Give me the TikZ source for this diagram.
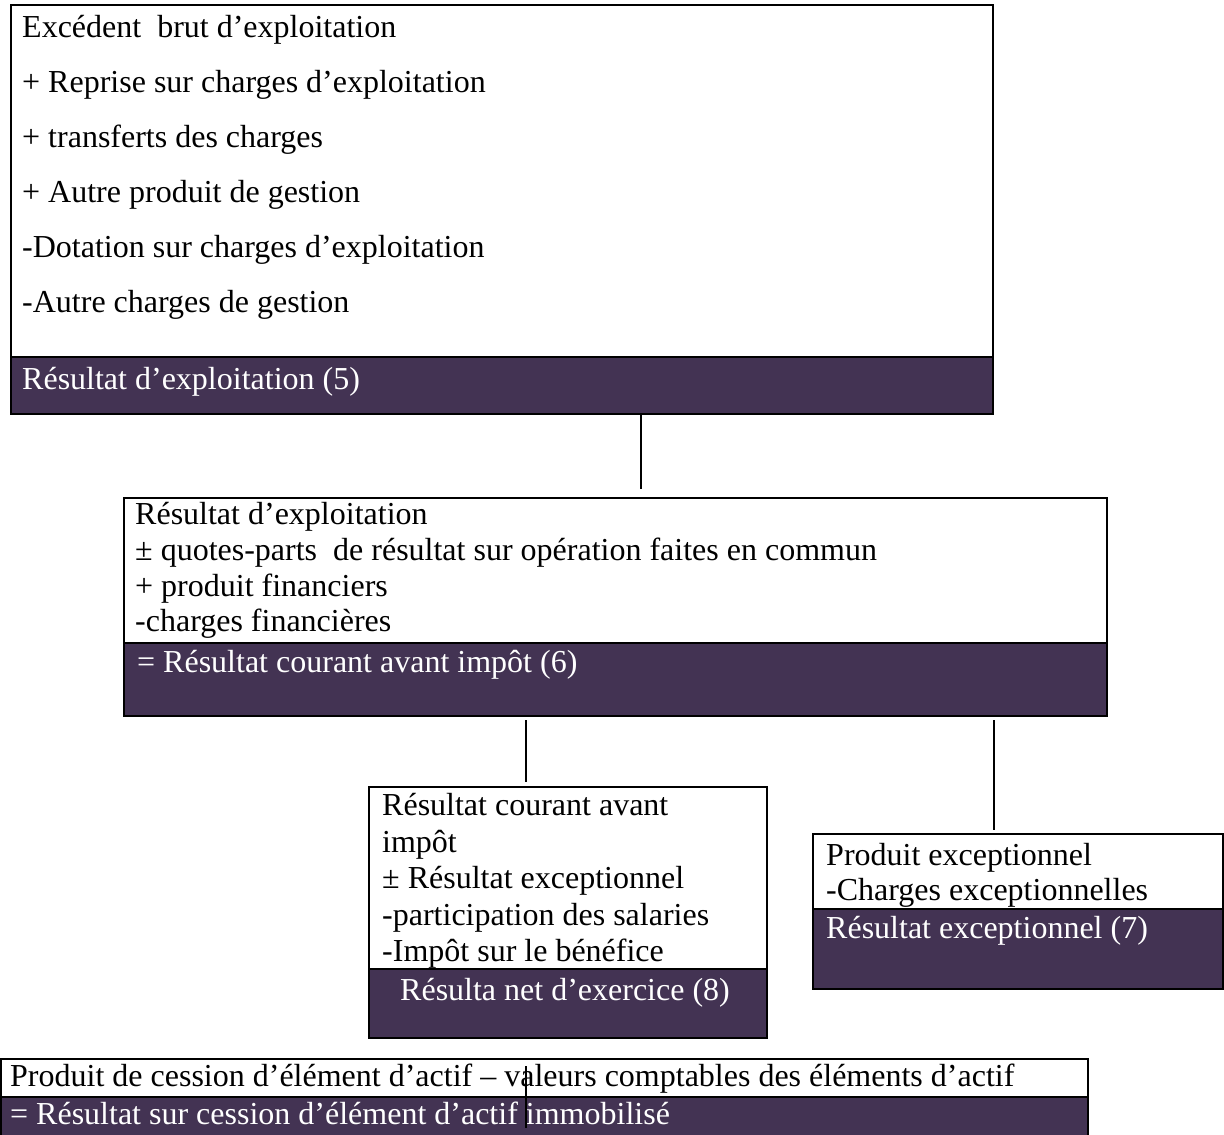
\documentclass[tikz,border=0pt]{standalone}
\usepackage{fontspec}
\setmainfont{Liberation Serif}
\definecolor{bandc}{HTML}{433353}
\tikzset{
  frame/.style={rectangle, draw, line width=2pt, fill=white, inner sep=0pt, anchor=north west},
  bandbox/.style={rectangle, draw, line width=2pt, fill=bandc, inner sep=0pt, anchor=north west},
  txt/.style={anchor=base west, inner sep=0pt, font=\fontsize{32}{36}\selectfont},
  wtxt/.style={txt, text=white},
  link/.style={line width=1.3pt}
}
\begin{document}
\begin{tikzpicture}[x=1pt,y=-1pt]
\useasboundingbox (0,0) rectangle (1224,1135);
\clip (0,0) rectangle (1224,1135);
% box 1
\node[frame, minimum width=982pt, minimum height=409pt] (b1) at (10,4) {};
\node[bandbox, minimum width=982pt, minimum height=57pt] (b1band) at (10,356) {};
\node[txt] (t11) at (22,37) {Excédent\ \ brut d’exploitation};
\node[txt] (t12) at (22,92) {+ Reprise sur charges d’exploitation};
\node[txt] (t13) at (22,147) {+ transferts des charges};
\node[txt] (t14) at (22,202) {+ Autre produit de gestion};
\node[txt] (t15) at (22,257) {-Dotation sur charges d’exploitation};
\node[txt] (t16) at (22,312) {-Autre charges de gestion};
\node[wtxt] (t17) at (22,389) {Résultat d’exploitation (5)};
% box 2
\node[frame, minimum width=983pt, minimum height=218pt] (b2) at (123,497) {};
\node[bandbox, minimum width=983pt, minimum height=73pt] (b2band) at (123,642) {};
\node[txt] (t21) at (135,524) {Résultat d’exploitation};
\node[txt] (t22) at (135,560) {± quotes-parts\ \ de résultat sur opération faites en commun};
\node[txt] (t23) at (135,596) {+ produit financiers};
\node[txt] (t24) at (135,631) {-charges financières};
\node[wtxt] (t25) at (137,672) {= Résultat courant avant impôt (6)};
% box 3
\node[frame, minimum width=398pt, minimum height=251pt] (b3) at (368,786) {};
\node[bandbox, minimum width=398pt, minimum height=69pt] (b3band) at (368,968) {};
\node[txt] (t31) at (382,815) {Résultat courant avant};
\node[txt] (t32) at (382,852) {impôt};
\node[txt] (t33) at (382,888) {± Résultat exceptionnel};
\node[txt] (t34) at (382,925) {-participation des salaries};
\node[txt] (t35) at (382,961) {-Impôt sur le bénéfice};
\node[wtxt] (t36) at (400,1000) {Résulta net d’exercice (8)};
% box 4
\node[frame, minimum width=410pt, minimum height=155pt] (b4) at (812,833) {};
\node[bandbox, minimum width=410pt, minimum height=80pt] (b4band) at (812,908) {};
\node[txt] (t41) at (826,865) {Produit exceptionnel};
\node[txt] (t42) at (826,900) {-Charges exceptionnelles};
\node[wtxt] (t43) at (826,938) {Résultat exceptionnel (7)};
% box 5
\node[frame, minimum width=1087pt, minimum height=82pt] (b5) at (0,1058) {};
\node[bandbox, minimum width=1087pt, minimum height=44pt] (b5band) at (0,1096) {};
\node[txt] (t51) at (10,1086) {Produit de cession d’élément d’actif – valeurs comptables des éléments d’actif};
\node[wtxt] (t52) at (10,1124) {= Résultat sur cession d’élément d’actif immobilisé};
% connectors
\coordinate (k1) at (641,489);
\draw[link] (b1band.south -| k1) -- (k1);
\coordinate (k2) at (526,782);
\draw[link] (b2band.south -| k2) ++(0,3) -- (k2);
\coordinate (k3) at (994,830);
\draw[link] (b2band.south -| k3) ++(0,3) -- (k3);
\coordinate (k4a) at (526,1066);
\coordinate (k4b) at (526,1128);
\draw[link] (k4a) -- (k4b);
\end{tikzpicture}
\end{document}
